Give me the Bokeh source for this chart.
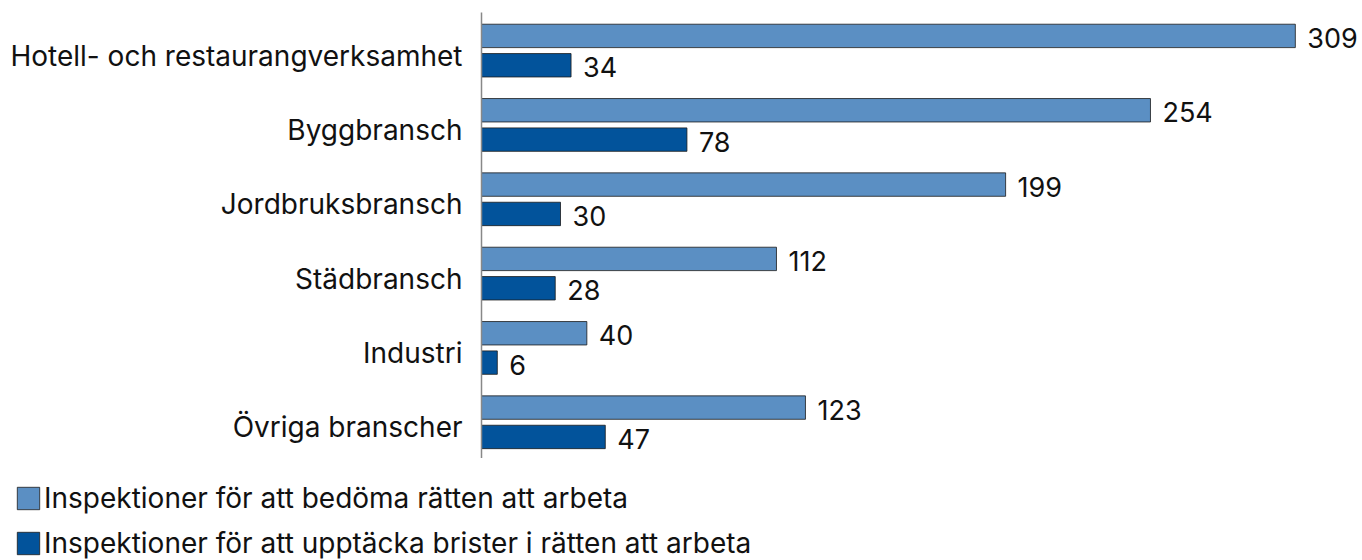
from bokeh.plotting import figure
from bokeh.layouts import column
from bokeh.models import ColumnDataSource, LabelSet, Legend, LegendItem, FixedTicker, Range1d
from bokeh.core.properties import value
from bokeh.embed import file_html
from bokeh.resources import INLINE

categories = ["Hotell- och restaurangverksamhet", "Byggbransch", "Jordbruksbransch",
              "Städbransch", "Industri", "Övriga branscher"]
series_names = ["Inspektioner för att bedöma rätten att arbeta",
                "Inspektioner för att upptäcka brister i rätten att arbeta"]
bedoma = [309, 254, 199, 112, 40, 123]
upptacka = [34, 78, 30, 28, 6, 47]
colors = ["#5b8fc3", "#02539b"]

n = len(categories)
ypos = [n - 1 - i for i in range(n)]
off = [0.185, -0.21]
bh = 0.315
FONT = "Inter"

p = figure(width=1362, height=458, output_backend="svg", toolbar_location=None,
           x_range=Range1d(0, 334.5), y_range=Range1d(-0.5, n - 0.5),
           x_axis_location=None,
           min_border_left=481, min_border_right=0, min_border_top=12, min_border_bottom=0)
p.xgrid.visible = False
p.ygrid.visible = False
p.outline_line_color = None

for k, vals in enumerate([bedoma, upptacka]):
    src = ColumnDataSource(dict(y=[y + off[k] for y in ypos], v=vals,
                                lab=[str(v) for v in vals]))
    p.hbar(y="y", right="v", left=0, height=bh, source=src,
           fill_color=colors[k], line_color="#1a1a1a", line_width=0.8)
    ls = LabelSet(x="v", y="y", text="lab", source=src, x_offset=12, y_offset=-2,
                  text_font=value(FONT), text_font_size="27px", text_color="#111111",
                  text_baseline="middle")
    p.add_layout(ls)

tick_pos = [round(y - 0.08, 3) for y in ypos]
yax = p.yaxis[0]
yax.ticker = FixedTicker(ticks=tick_pos)
yax.major_label_overrides = {t: c for t, c in zip(tick_pos, categories)}
yax.major_tick_line_color = None
yax.minor_tick_line_color = None
yax.axis_line_color = "#888888"
yax.axis_line_width = 1.5
yax.major_label_text_font = FONT
yax.major_label_text_font_size = "28px"
yax.major_label_text_color = "#111111"
yax.major_label_standoff = 13

# legend strip below the chart
q = figure(width=1362, height=102, output_backend="svg", toolbar_location=None,
           x_range=Range1d(0, 1), y_range=Range1d(0, 1),
           x_axis_location=None, y_axis_location=None,
           min_border_left=0, min_border_right=0, min_border_top=0, min_border_bottom=0)
q.grid.visible = False
q.outline_line_color = None
dummies = []
for k in range(2):
    dummies.append(q.hbar(y=[-10], right=[-5], left=-6, height=0.1,
                          fill_color=colors[k], line_color="#1a1a1a", line_width=0.8))
legend = Legend(items=[LegendItem(label=series_names[k], renderers=[dummies[k]]) for k in range(2)],
                location=(14, 0), orientation="vertical",
                glyph_width=28, glyph_height=28, label_height=28, spacing=11,
                padding=0, margin=0, border_line_color=None, background_fill_alpha=0,
                label_text_font=FONT, label_text_font_size="28px",
                label_text_color="#111111", label_standoff=2)
q.add_layout(legend, "center")

layout = column(p, column(q, spacing=0), spacing=0)
open("out.html", "w").write(file_html(layout, INLINE))
